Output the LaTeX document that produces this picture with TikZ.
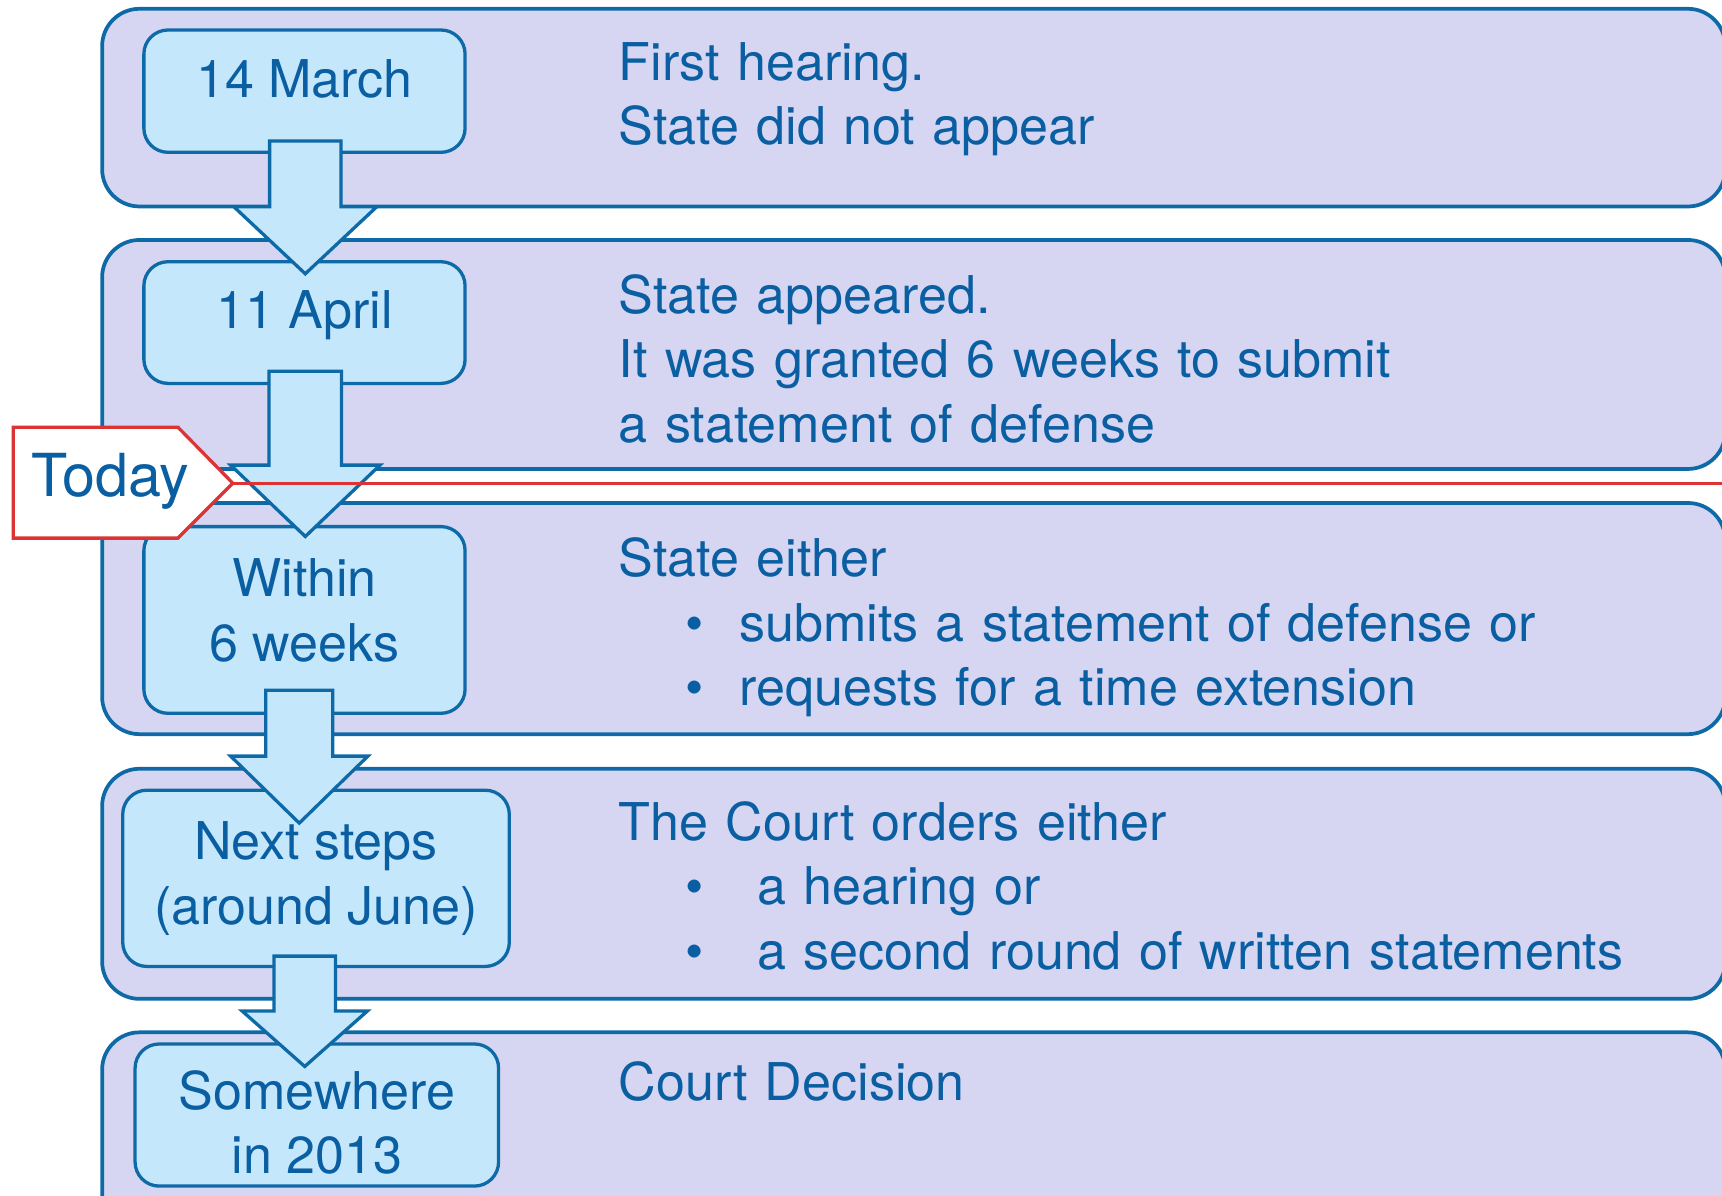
\documentclass[tikz,border=0pt]{standalone}
\usepackage{fontspec}
\setmainfont{TeX Gyre Heros}
\usepackage{tikz}
\usetikzlibrary{calc}
\usetikzlibrary{positioning}
\definecolor{lavender}{RGB}{214, 214, 242}
\definecolor{skyblue}{RGB}{197, 231, 252}
\definecolor{seablue}{RGB}{14, 106, 166}
\definecolor{inkblue}{RGB}{10, 94, 162}
\definecolor{signalred}{RGB}{220, 52, 52}

% tip, shaft half width, head half width, head depth, shaft length
\newcommand{\flowarrow}[5]{%
  \filldraw[flow] (#1) -- ++(#3,-#4) -- ++(#2-#3,0) -- ++(0,-#5) -- ++(-2*#2,0)
                      -- ++(0,#5) -- ++(#2-#3,0) -- cycle;}
\newcommand{\bulletline}[2]{\hspace*{30.6pt}\makebox[#1][l]{\textbullet}#2}
\newcommand{\tallstrut}{\rule{0pt}{24.6pt}}

\tikzset{
  panel/.style={draw=seablue, fill=lavender, line width=1.7pt, rounded corners=17pt,
                minimum width=739pt, anchor=north west, inner sep=0pt, outer sep=0pt},
  datebox/.style={draw=seablue, fill=skyblue, line width=1.5pt, rounded corners=11pt,
                  align=center, text=inkblue, inner sep=0pt, outer sep=0pt},
  events/.style={text=inkblue, text width=560pt, align=left, anchor=base west, inner sep=0pt},
  flow/.style={draw=seablue, fill=skyblue, line width=1.5pt, line join=miter},
  sink/.style={execute at end node={\rule[-#1]{0pt}{#1}}},
}

\begin{document}
\begin{tikzpicture}[x=0.5pt, y=-0.5pt, font=\fontsize{23.7}{29.4}\selectfont]
            \useasboundingbox (0,0) rectangle (1568,1089);
            \node[panel, minimum height=90pt]     (p1) at (93,   8) {};
            \node[panel, minimum height=104.25pt] (p2) at (93, 218.5) {};
            \node[panel, minimum height=105.25pt] (p3) at (93, 458) {};
            \node[panel, minimum height=104.75pt] (p4) at (93, 700) {};
            \node[panel, minimum height=90pt]     (p5) at (93, 940) {};

            \node[datebox, sink=11.2pt, minimum width=146.25pt, minimum height=55.7pt] (d1) at (277.25,  83)   {14 March};
            \node[datebox, sink=11.9pt, minimum width=146.25pt, minimum height=55.4pt] (d2) at (277.25, 293.7) {11 April};
            \node[datebox, sink=8.9pt,  minimum width=146.25pt, minimum height=85pt]   (d3) at (277.25, 564.5) {Within\\6 weeks};
            \node[datebox,              minimum width=176pt,    minimum height=80.25pt](d4) at (287.75, 799.75){Next steps\\(around June)};
            \node[datebox,              minimum width=165.5pt,  minimum height=64.7pt] (d5) at (288.5, 1015.3) {\tallstrut Somewhere\\in 2013};

            \node[events] (e1) at (563,  73) {First hearing.\\State did not appear};
            \node[events] (e2) at (563, 285) {State appeared.\\It was granted 6 weeks to submit\\a statement of defense};
            \node[events] (e3) at (563, 525) {State either\\\bulletline{24.3pt}{submits a statement of defense or}\\\bulletline{24.3pt}{requests for a time extension}};
            \node[events] (e4) at (563, 765) {The Court orders either\\\bulletline{32.6pt}{a hearing or}\\\bulletline{32.6pt}{a second round of written statements}};
            \node[events] (e5) at (563,1002) {Court Decision};

            \coordinate (tip1) at ($(d2.north)+(0.75,11)$);
            \coordinate (tip2) at ($(d3.north)+(0.75,9)$);
            \coordinate (tip3) at ($(d4.north)+(-15.25,30)$);
            \coordinate (tip4) at ($(d5.north)+(-11,20.5)$);
            \flowarrow{tip1}{32.5}{65}{61}{60}
            \flowarrow{tip2}{33}{68}{65}{85.5}
            \flowarrow{tip3}{30.5}{62.5}{61}{60}
            \flowarrow{tip4}{28}{57}{50.5}{50}

            % today marker
            \coordinate (nowtip) at (212,440);
            \coordinate (nowend) at (1575,440);
            \filldraw[signalred, fill=white, line width=1.5pt, line join=miter]
                 (12,389) -- (162,389) -- (nowtip) -- (162,490) -- (12,490) -- cycle;
            \node[text=inkblue, font=\fontsize{27}{32}\selectfont, anchor=base west, inner sep=0pt] (today) at (28,452) {Today};
            \draw[signalred, line width=1.5pt] (nowtip) -- (nowend);
        \end{tikzpicture}
\end{document}
